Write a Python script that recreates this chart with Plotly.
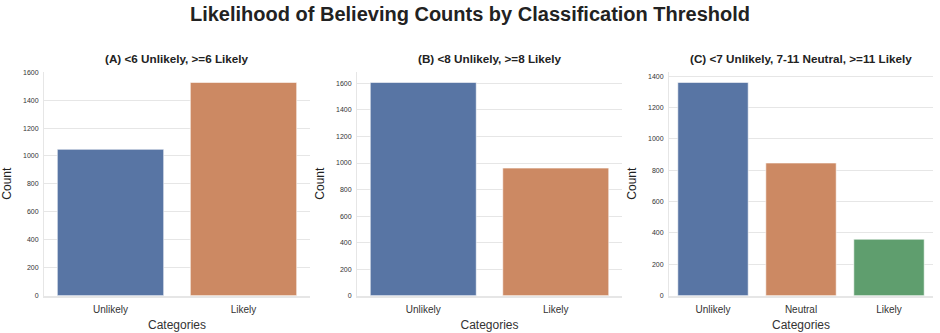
import plotly.graph_objects as go
from plotly.subplots import make_subplots

# Counts per category for each classification threshold
cats_a = ["Unlikely", "Likely"]
counts_a = [1048, 1527]

cats_b = ["Unlikely", "Likely"]
counts_b = [1608, 962]

cats_c = ["Unlikely", "Neutral", "Likely"]
counts_c = [1360, 846, 360]

panel_titles = [
    "(A) <6 Unlikely, >=6 Likely",
    "(B) <8 Unlikely, >=8 Likely",
    "(C) <7 Unlikely, 7-11 Neutral, >=11 Likely",
]

color_map = {"Unlikely": "#5875A4", "Likely": "#CC8963"}
color_map_c = {"Unlikely": "#5875A4", "Neutral": "#CC8963", "Likely": "#5F9E6E"}

FONT = "Liberation Sans, Arial, sans-serif"
W, H = 940, 333

fig = make_subplots(rows=1, cols=3)

panels = [
    (cats_a, counts_a, color_map),
    (cats_b, counts_b, color_map),
    (cats_c, counts_c, color_map_c),
]

# pixel domains of each panel
x_doms = [(44, 310), (357, 622), (669, 933)]
y_top, y_bot = 70, 298

for i, (cats, vals, colors) in enumerate(panels, start=1):
    fig.add_trace(
        go.Bar(
            x=cats,
            y=vals,
            width=0.8,
            marker=dict(color=[colors[c] for c in cats],
                        line=dict(color="rgba(255,255,255,0.6)", width=1)),
            showlegend=False,
        ),
        row=1, col=i,
    )
    x0, x1 = x_doms[i - 1]
    axid = "" if i == 1 else str(i)
    fig.layout["xaxis" + axid].update(
        domain=[x0 / W, x1 / W],
        range=[-0.5, len(cats) - 0.5],
        showgrid=False,
        showline=True, linecolor="#e6e6e6", linewidth=1.5,
        ticks="", ticklabelstandoff=4,
        tickfont=dict(family=FONT, size=10, color="#333333"),
        title=dict(text="Categories", font=dict(family=FONT, size=12, color="#333333"),
                   standoff=6),
    )
    fig.layout["yaxis" + axid].update(
        domain=[1 - y_bot / H, 1 - y_top / H],
        range=[0, max(vals) * 1.05],
        dtick=200,
        showgrid=True, gridcolor="#e6e6e6", gridwidth=1,
        zeroline=False,
        showline=True, linecolor="#e6e6e6", linewidth=1,
        ticks="", ticklabelstandoff=3,
        tickfont=dict(family=FONT, size=7, color="#333333"),
        title=dict(text="Count", font=dict(family=FONT, size=12, color="#222222"),
                   standoff=8),
    )
    fig.add_annotation(
        text="<b>" + panel_titles[i - 1] + "</b>",
        x=(x0 + x1) / 2 / W, y=1 - 57 / H,
        xref="paper", yref="paper",
        xanchor="center", yanchor="middle",
        showarrow=False,
        font=dict(family=FONT, size=11.7, color="#222222"),
    )

fig.update_layout(
    width=W, height=H,
    margin=dict(l=0, r=0, t=0, b=0),
    paper_bgcolor="white",
    plot_bgcolor="white",
    bargap=0.2,
    title=dict(
        text="<b>Likelihood of Believing Counts by Classification Threshold</b>",
        x=0.5, xanchor="center", y=1 - 14 / H, yanchor="middle",
        font=dict(family=FONT, size=20, color="#222222"),
    ),
)

fig.write_html("out.html")
